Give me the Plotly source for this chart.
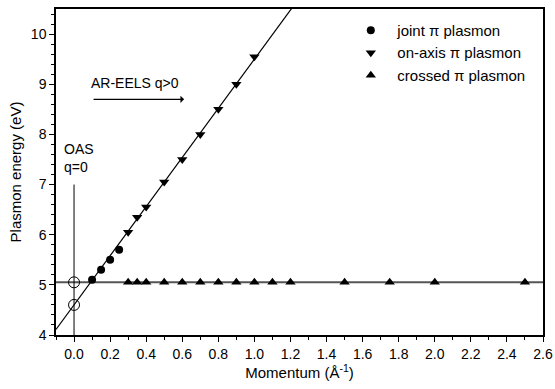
import plotly.graph_objects as go

# --- data ---
joint_q = [0.10, 0.15, 0.20, 0.25]
joint_e = [5.10, 5.30, 5.50, 5.70]

onaxis_q = [0.30, 0.35, 0.40, 0.50, 0.60, 0.70, 0.80, 0.90, 1.00]
onaxis_e = [6.05, 6.35, 6.55, 7.05, 7.50, 8.00, 8.50, 9.00, 9.55]

crossed_q = [0.30, 0.35, 0.40, 0.50, 0.60, 0.70, 0.80, 0.90, 1.00, 1.10, 1.20, 1.50, 1.75, 2.00, 2.50]
crossed_e = [5.05] * len(crossed_q)

oas_q = [0.0, 0.0]
oas_e = [5.05, 4.60]

fit_intercept = 4.60
fit_slope = 4.90
fit_q = [-0.10, 1.30]
fit_e = [fit_intercept + fit_slope * q for q in fit_q]

flat_q = [-0.10, 2.60]
flat_e = [5.05, 5.05]

vline_q = [0.0, 0.0]
vline_e = [4.0, 7.0]

x_range = [-0.1, 2.6]
y_range = [4.0, 10.5]

FONT = "Liberation Sans, Arial, sans-serif"

fig = go.Figure()

fig.add_trace(go.Scatter(x=flat_q, y=flat_e, mode="lines",
                         line=dict(color="#555555", width=2), showlegend=False, hoverinfo="skip"))
fig.add_trace(go.Scatter(x=fit_q, y=fit_e, mode="lines",
                         line=dict(color="black", width=1.2), showlegend=False, hoverinfo="skip"))
fig.add_trace(go.Scatter(x=vline_q, y=vline_e, mode="lines",
                         line=dict(color="black", width=1), showlegend=False, hoverinfo="skip"))
fig.add_trace(go.Scatter(x=oas_q, y=oas_e, mode="markers",
                         marker=dict(symbol="circle-open", size=11, color="black", line=dict(width=1)),
                         showlegend=False, cliponaxis=False))

fig.add_trace(go.Scatter(x=joint_q, y=joint_e, mode="markers", name="joint π plasmon",
                         marker=dict(symbol="circle", size=8, color="black")))
fig.add_trace(go.Scatter(x=onaxis_q, y=onaxis_e, mode="markers", name="on-axis π plasmon",
                         marker=dict(symbol="triangle-down", size=9, color="black")))
fig.add_trace(go.Scatter(x=crossed_q, y=crossed_e, mode="markers", name="crossed π plasmon",
                         marker=dict(symbol="triangle-up", size=9, color="black"), cliponaxis=False))

fig.add_annotation(x=-0.065, y=7.15, xref="x", yref="y", text="OAS<br>q=0", showarrow=False,
                   xanchor="left", yanchor="bottom", align="left",
                   font=dict(family=FONT, size=14, color="black"))
fig.add_annotation(x=0.085, y=8.83, xref="x", yref="y", text="AR-EELS q>0", showarrow=False,
                   xanchor="left", yanchor="bottom",
                   font=dict(family=FONT, size=14, color="black"))
fig.add_annotation(x=0.61, y=8.7, ax=0.10, ay=8.7, xref="x", yref="y", axref="x", ayref="y",
                   text="", showarrow=True, arrowhead=1, arrowsize=1, arrowwidth=1.2, arrowcolor="black")

axis_common = dict(showline=True, linecolor="black", linewidth=1.5, mirror=True,
                   ticks="outside", ticklen=5, tickwidth=1, tickcolor="black",
                   showgrid=False, zeroline=False, automargin=False,
                   tickfont=dict(family=FONT, size=14, color="black"))

fig.update_xaxes(range=x_range, dtick=0.2, tick0=0, tickformat=".1f",
                 minor=dict(dtick=0.1, tick0=0, ticks="outside", ticklen=3, tickcolor="black", showgrid=False),
                 title=dict(text="Momentum (Å<sup>-1</sup>)", font=dict(family=FONT, size=15, color="black"),
                            standoff=7),
                 **axis_common)
fig.update_yaxes(range=y_range, dtick=1, tick0=0,
                 minor=dict(dtick=0.2, tick0=0, ticks="outside", ticklen=3, tickcolor="black", showgrid=False),
                 title=dict(text="Plasmon energy (eV)", font=dict(family=FONT, size=15, color="black"),
                            standoff=6),
                 **axis_common)

fig.update_layout(
    width=555, height=389,
    margin=dict(l=56, r=12, t=9, b=54),
    plot_bgcolor="white", paper_bgcolor="white",
    font=dict(family=FONT, size=14, color="black"),
    legend=dict(x=0.592, y=0.985, xanchor="left", yanchor="top", bgcolor="rgba(0,0,0,0)",
                font=dict(family=FONT, size=15, color="black"), itemwidth=43, tracegroupgap=0),
)

fig.write_html("out.html")
